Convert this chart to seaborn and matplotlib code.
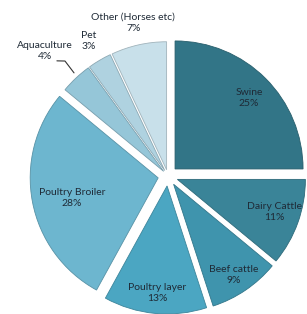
import matplotlib
matplotlib.use("Agg")
import matplotlib.pyplot as plt
import matplotlib.colors as mcolors
import seaborn as sns
import numpy as np

categories = ["Swine", "Dairy Cattle", "Beef cattle", "Poultry layer",
              "Poultry Broiler", "Aquaculture", "Pet", "Other (Horses etc)"]
shares = [25, 11, 9, 13, 28, 4, 3, 7]
colors = ["#327587", "#3A8498", "#3F94AD", "#4BA6C2",
          "#6DB6CF", "#95C6D8", "#AFD2E0", "#C8E0EA"]
explode = [0.078, 0.078, 0.078, 0.078, 0.078, 0.05, 0.05, 0.05]

# label placement (distance from wedge centre, angle tweak in degrees)
label_dist = [0.80, 0.80, 0.85, 0.84, 0.69, 1.32, 1.17, 1.18]
label_dang = [-1.2, 1.2, -0.5, 0.0, 2.3, 1.4, -0.3, 0.2]

sns.set_theme(style="white")
plt.rcParams["font.family"] = ["Lato", "DejaVu Sans"]

fig = plt.figure(figsize=(3.07, 3.14), dpi=100)
ax = fig.add_axes([0, 0, 1, 1])

wedges, _ = ax.pie(shares, colors=colors, startangle=90, counterclock=False,
                   explode=explode,
                   wedgeprops=dict(linewidth=0.6))
for w, c in zip(wedges, colors):
    r, g, b = mcolors.to_rgb(c)
    w.set_edgecolor((r * 0.8, g * 0.8, b * 0.8))

for w, cat, val, d, da in zip(wedges, categories, shares, label_dist, label_dang):
    mid = np.deg2rad((w.theta1 + w.theta2) / 2 + da)
    cx, cy = w.center
    ax.text(cx + d * np.cos(mid), cy + d * np.sin(mid), f"{cat}\n{val}%",
            ha="center", va="center", fontsize=7.5,
            color="#1F2A36", linespacing=1.3)

# leader line for Aquaculture
aq = wedges[5]
cx, cy = aq.center
pts = [(1.2, 134.0), (1.156, 131.8), (1.04, 132.3)]
lx = [cx + d * np.cos(np.deg2rad(a)) for d, a in pts]
ly = [cy + d * np.sin(np.deg2rad(a)) for d, a in pts]
ax.plot(lx, ly, color="#333333", linewidth=0.8)

ax.set_xlim(-1.3125, 1.086)
ax.set_ylim(-1.078, 1.375)
ax.set_aspect("auto")
ax.axis("off")

fig.savefig("out.png", dpi=100, facecolor="white")
